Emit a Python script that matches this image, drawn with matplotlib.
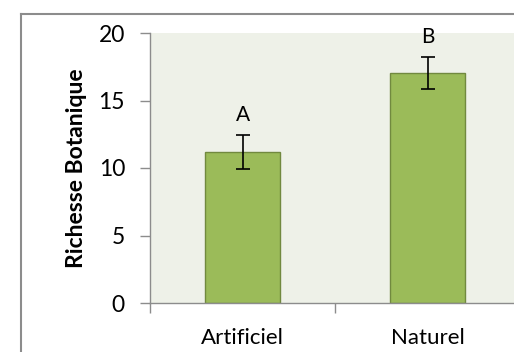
import matplotlib
matplotlib.use('Agg')
import matplotlib.pyplot as plt
from matplotlib.lines import Line2D

categories = ['Artificiel', 'Naturel']
values = [11.2, 17.05]
errors = [1.25, 1.17]
letters = ['A', 'B']
yticks = [0, 5, 10, 15, 20]

plt.rcParams['font.family'] = ['Lato', 'DejaVu Sans']

W, H = 514, 352
fig = plt.figure(figsize=(W / 100, H / 100), dpi=100)

# outer chart border (cut off on right and bottom)
fig.add_artist(Line2D([21 / W, 21 / W], [0, 1 - 14 / H], color='#8c8c8c', lw=1.5))
fig.add_artist(Line2D([21 / W, 1.0], [1 - 14 / H, 1 - 14 / H], color='#8c8c8c', lw=1.5))

left, right, top, bottom = 150, 520, 33, 303
ax = fig.add_axes([left / W, 1 - bottom / H, (right - left) / W, (bottom - top) / H])
ax.set_facecolor('#eef1e8')

x = range(len(categories))
ax.bar(x, values, width=0.405, color='#9bbb59', edgecolor='#71893f', linewidth=1, zorder=2)
ax.errorbar(x, values, yerr=errors, fmt='none', ecolor='black', elinewidth=1.2,
            capsize=5, capthick=1.2, zorder=3)
for i, (v, e, t) in enumerate(zip(values, errors, letters)):
    ax.text(i, v + e + 1.05, t, ha='center', va='baseline', fontsize=15)

ax.set_xlim(-0.5, 1.5)
ax.set_ylim(0, 20)
ax.set_yticks(yticks)
ax.set_xticks(list(x))
ax.set_xticklabels(categories, fontsize=16)
ax.set_xticks([-0.5, 0.5, 1.5], minor=True)
ax.tick_params(axis='x', which='major', length=0, pad=18)
ax.tick_params(axis='x', which='minor', length=7, color='#8c8c8c', width=1)
ax.tick_params(axis='y', length=7, color='#8c8c8c', width=1, labelsize=16.5, pad=11)

for s in ['top', 'right']:
    ax.spines[s].set_visible(False)
for s in ['left', 'bottom']:
    ax.spines[s].set_color('#8c8c8c')
    ax.spines[s].set_linewidth(1)

ax.set_ylabel('Richesse Botanique', fontsize=16.5, fontweight='bold', labelpad=8)

fig.savefig('out.png', dpi=100)
